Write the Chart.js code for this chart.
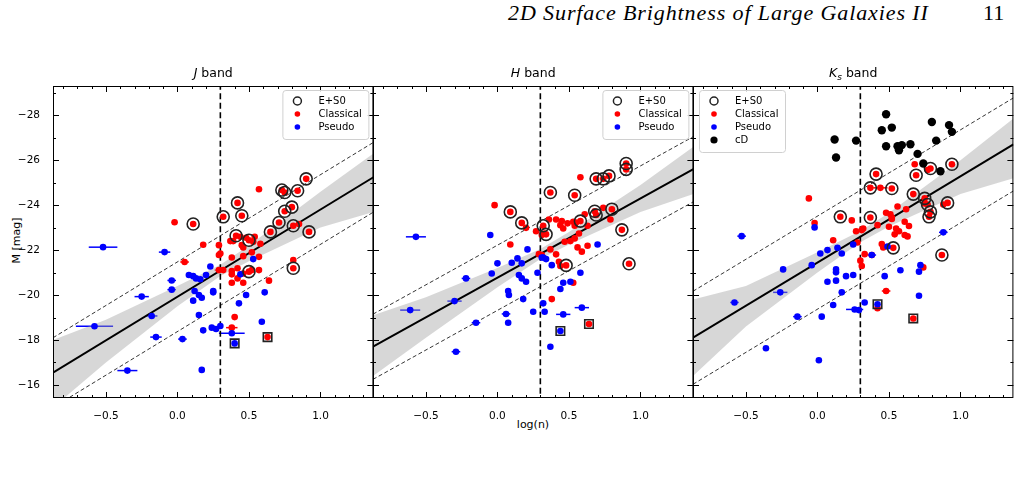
<!DOCTYPE html>
<html><head><meta charset="utf-8">
<script src="https://cdn.jsdelivr.net/npm/chart.js@4"></script>
<style>
body{margin:0;background:#fff;width:1022px;height:478px;position:relative;overflow:hidden;font-family:"DejaVu Sans",sans-serif}
canvas{position:absolute;top:60px}
.hdr{position:absolute;top:0px;font-family:"Liberation Serif",serif;font-style:italic;font-size:22px;letter-spacing:0.9px;color:#000}
</style></head><body>
<div class="hdr" style="left:508px">2D Surface Brightness of Large Galaxies II</div>
<div class="hdr" style="left:983px;font-style:normal;letter-spacing:0">11</div>
<div style="position:absolute;left:-14px;top:234px;transform:rotate(-90deg);font-size:11px;width:60px;text-align:center">M [mag]</div>
<div style="position:absolute;left:513px;top:418px;font-size:11px;width:40px;text-align:center">log(n)</div>
<canvas id="c1" width="381" height="400" style="left:0px"></canvas>
<canvas id="c2" width="381" height="400" style="left:320px"></canvas>
<canvas id="c3" width="381" height="400" style="left:640px"></canvas>
<script>
// ---- data: [logn, M, xerr] ----
const xTicks=[-0.5,0,0.5,1.0];
const yTicks=[-28,-26,-24,-22,-20,-18,-16];
const bandX=[-0.87,-0.5,0,0.3,0.5,1.0,1.37];
const fitX=[-0.87,1.37];

const jES0=[[0.11,-23.16],[0.42,-24.10],[0.32,-23.48],[0.45,-23.53],[0.90,-25.17],[0.73,-24.67],[0.75,-24.56],[0.84,-24.64],[0.80,-23.91],[0.75,-23.73],[0.71,-23.23],[0.65,-22.81],[0.81,-23.08],[0.92,-22.81],[0.41,-22.64],[0.50,-22.44],[0.50,-21.04],[0.81,-21.19]];
const jSq=[[0.63,-18.13,'red'],[0.40,-17.85,'blue']];
const jCla=[[-0.02,-23.24,0.02],[0.18,-22.24],[0.05,-21.47,0.03],[0.29,-22.22],[0.30,-21.85],[0.29,-21.78],[0.57,-24.71],[0.37,-22.40],[0.39,-22.40],[0.45,-22.22],[0.46,-22.12],[0.44,-22.59],[0.48,-22.55],[0.54,-22.59],[0.53,-22.37],[0.58,-22.28],[0.38,-21.67],[0.46,-21.73],[0.52,-21.90],[0.57,-21.70],[0.32,-21.11],[0.38,-21.07],[0.38,-20.92],[0.42,-21.19],[0.46,-20.96],[0.52,-21.11],[0.57,-21.11],[0.38,-20.55],[0.42,-20.74],[0.46,-20.55],[0.64,-20.64],[0.85,-23.16],[0.81,-21.56],[0.40,-19.02,0.02],[0.38,-18.55,0.04],[0.29,-21.11,0.03]];
const jPse=[[-0.52,-22.13,0.1],[-0.58,-18.61,0.13],[-0.35,-16.64,0.07],[-0.25,-19.93,0.05],[-0.18,-19.07,0.04],[-0.15,-18.13,0.04],[-0.09,-21.91,0.04],[-0.04,-20.65,0.03],[-0.04,-20.24,0.03],[0.035,-18.04,0.03],[0.08,-20.89],[0.11,-20.84],[0.13,-20.74],[0.16,-20.70],[0.20,-20.89],[0.23,-21.27],[0.12,-20.18],[0.11,-19.75],[0.15,-20.00],[0.17,-19.88],[0.25,-20.18],[0.25,-20.12],[0.15,-19.11],[0.18,-18.43],[0.24,-18.55],[0.27,-18.49],[0.30,-18.62],[0.17,-16.67],[0.44,-20.92],[0.53,-21.60],[0.48,-20.00],[0.61,-20.12],[0.43,-19.63],[0.59,-18.81],[0.38,-18.30,0.09]];
const jFit=[-16.55,-25.24], jUp=[-18.10,-26.79], jLo=[-15.00,-23.69];
const jBandU=[-18.0,-18.9,-20.4,-21.35,-22.2,-24.6,-26.3];
const jBandL=[-15.0,-17.0,-19.5,-20.85,-21.5,-23.0,-23.7];

const hES0=[[0.09,-23.70],[0.17,-23.21],[0.32,-23.08],[0.34,-22.70],[0.37,-24.56],[0.54,-24.44],[0.69,-25.17],[0.74,-25.17],[0.78,-25.30],[0.90,-25.85],[0.90,-25.59],[0.68,-23.73],[0.69,-23.56],[0.80,-23.82],[0.58,-23.29],[0.87,-22.90],[0.48,-21.32],[0.92,-21.39]];
const hSq=[[0.64,-18.71,'red'],[0.44,-18.40,'blue']];
const hCla=[[-0.02,-24.00],[0.09,-22.25],[0.20,-22.99],[0.27,-22.84],[0.31,-22.67],[0.33,-22.74],[0.58,-25.24],[0.36,-23.36],[0.41,-23.36],[0.44,-23.11],[0.45,-23.29],[0.46,-22.96],[0.49,-23.19],[0.53,-23.26],[0.54,-23.08],[0.55,-23.23],[0.61,-23.59],[0.63,-23.08],[0.74,-23.88],[0.79,-23.36],[0.47,-22.37],[0.51,-22.40],[0.54,-22.52],[0.57,-22.74],[0.56,-22.12],[0.59,-21.93],[0.63,-22.19],[0.29,-21.82],[0.37,-22.03],[0.41,-21.81],[0.43,-21.48],[0.44,-21.29],[0.53,-20.55],[0.38,-19.82],[0.31,-21.78]];
const hPse=[[-0.57,-22.59,0.07],[-0.61,-19.33,0.07],[-0.29,-17.48,0.03],[-0.30,-19.73,0.05],[-0.22,-20.74,0.03],[-0.15,-18.77,0.03],[-0.05,-22.67],[-0.04,-20.96],[0,-21.41],[0.06,-19.16,0.03],[0.075,-20.18],[0.08,-20.00],[0.075,-18.77],[0.10,-21.44],[0.14,-21.63],[0.17,-21.41],[0.15,-20.89],[0.17,-20.74],[0.20,-20.59],[0.18,-19.82],[0.21,-22.03],[0.25,-19.26],[0.28,-20.99],[0.31,-21.67],[0.32,-21.67],[0.34,-21.60],[0.38,-21.33],[0.32,-19.63],[0.33,-19.26],[0.37,-17.70],[0.46,-20.55],[0.44,-20.27],[0.51,-20.59],[0.58,-20.99],[0.70,-22.25],[0.59,-19.44,0.05],[0.46,-19.14,0.05]];
const hFit=[-17.70,-25.60], hUp=[-19.15,-27.05], hLo=[-16.25,-24.15];
const hBandU=[-19.1,-19.9,-21.2,-22.05,-22.8,-24.9,-26.6];
const hBandL=[-16.4,-18.1,-20.35,-21.6,-22.25,-23.7,-24.5];

const kCD=[[0.48,-28.04],[0.45,-27.33],[0.52,-27.45],[0.80,-27.70],[0.92,-27.56],[0.94,-27.26],[0.12,-26.92],[0.27,-26.87],[0.48,-26.62],[0.56,-26.62],[0.57,-26.44],[0.59,-26.67],[0.65,-26.71],[0.83,-26.87],[0.70,-26.28],[0.74,-25.85],[0.86,-25.51],[0.13,-26.12]];
const kES0=[[0.41,-25.38],[0.37,-24.77],[0.52,-24.74],[0.69,-25.33],[0.79,-25.63],[0.94,-25.82],[0.67,-24.49],[0.75,-24.30],[0.77,-24.03],[0.79,-23.70],[0.78,-23.48],[0.91,-24.10],[0.16,-23.48],[0.37,-23.45],[0.53,-22.10],[0.87,-21.78]];
const kSq=[[0.67,-18.96,'red'],[0.42,-19.59,'blue']];
const kCla=[[-0.06,-24.30],[-0.02,-23.20],[0.24,-23.32],[0.11,-22.44],[0.27,-22.84],[0.31,-22.89],[0.32,-22.96],[0.28,-22.34],[0.33,-21.82],[0.30,-21.53],[0.31,-21.29],[0.44,-24.77,0.05],[0.42,-23.11],[0.48,-23.66],[0.51,-23.59],[0.52,-23.38],[0.50,-23.04],[0.45,-22.27],[0.46,-22.12],[0.55,-22.96],[0.54,-22.70],[0.57,-22.84],[0.61,-22.67],[0.63,-22.61],[0.64,-23.07],[0.61,-23.26],[0.56,-23.94],[0.62,-23.82],[0.68,-25.82],[0.77,-25.56],[0.75,-24.07],[0.88,-24.03],[0.74,-21.23],[0.48,-20.18,0.03],[0.42,-19.41],[0.38,-21.78],[0.52,-23.45]];
const kPse=[[-0.53,-22.62,0.03],[-0.58,-19.67,0.03],[-0.26,-20.12,0.05],[-0.24,-21.14],[-0.14,-19.04,0.03],[-0.36,-17.63],[0.01,-17.10],[0.03,-19.04],[0.11,-19.56],[0.07,-20.59],[0.13,-20.64],[0.17,-20.12],[0.20,-20.84],[0.25,-20.89],[-0.04,-21.33],[0.02,-21.85],[0.07,-22.00],[0.14,-22.10],[0.17,-21.85],[0.13,-21.14],[0.13,-21.01],[0.25,-22.25],[0.33,-19.67],[0.26,-19.36,0.06],[0.29,-19.33],[0.38,-21.78,0.03],[0.49,-22.16],[0.47,-20.84],[0.58,-21.10],[0.71,-21.04],[0.72,-21.33],[0.71,-19.97],[0.88,-22.79,0.03],[-0.02,-23.01]];
const kFit=[-18.10,-26.70], kUp=[-20.17,-28.77], kLo=[-16.03,-24.63];
const kBandU=[-19.8,-20.4,-21.9,-22.85,-23.65,-26.0,-27.85];
const kBandL=[-16.4,-18.6,-21.0,-22.35,-23.05,-24.5,-25.2];

// ---- rendering ----
const P=a=>a.map(d=>({x:d[0],y:d[1],xe:d[2]||0}));
const XY=(xs,ys)=>xs.map((x,i)=>({x,y:ys[i]}));
const FONT='"DejaVu Sans", sans-serif';

const axesPlugin={id:'axesP',
 beforeDatasetsDraw(ch){
  const {ctx}=ch, xs=ch.scales.x, ys=ch.scales.y;
  ctx.save();
  ch.data.datasets.forEach(ds=>{ if(!ds.errbar) return;
    ctx.strokeStyle=ds.errbar; ctx.lineWidth=1.5;
    ds.data.forEach(p=>{ if(!p.xe) return;
      const y=ys.getPixelForValue(p.y);
      ctx.beginPath(); ctx.moveTo(xs.getPixelForValue(p.x-p.xe),y); ctx.lineTo(xs.getPixelForValue(p.x+p.xe),y); ctx.stroke();});
  });
  ctx.restore();
 },
 afterDraw(ch,args,o){
  const {ctx,chartArea:a}=ch, xs=ch.scales.x, ys=ch.scales.y;
  ctx.save();
  ctx.strokeStyle='#000'; ctx.lineWidth=1;
  ctx.strokeRect(a.left+0.5,a.top+0.5,a.right-a.left-1,a.bottom-a.top-1);
  ctx.beginPath();
  for(let v=-29;v<=-16;v++){const y=Math.round(ys.getPixelForValue(v))+0.5;const L=(v%2===0)?6:3;
    ctx.moveTo(a.left,y);ctx.lineTo(a.left+L,y);ctx.moveTo(a.right,y);ctx.lineTo(a.right-L,y);}
  for(let i=-8;i<=13;i++){const v=i/10;const x=Math.round(xs.getPixelForValue(v))+0.5;const L=(i%5===0)?6:3;
    ctx.moveTo(x,a.bottom);ctx.lineTo(x,a.bottom-L);ctx.moveTo(x,a.top);ctx.lineTo(x,a.top+L);}
  ctx.stroke();
  ctx.fillStyle='#000'; ctx.textBaseline='alphabetic';
  const cx=(a.left+a.right)/2, ty=a.top-9;
  const parts=o.title;
  let w=0; parts.forEach(p=>{ctx.font=p[1];w+=ctx.measureText(p[0]).width;});
  let x=cx-w/2;
  parts.forEach(p=>{ctx.font=p[1];ctx.fillText(p[0],x,ty+(p[2]||0));x+=ctx.measureText(p[0]).width;});
  const ents=o.legend, bw=86, bh=10+ents.length*13;
  const bx=o.legendLeft? a.left+6 : a.right-bw-5, by=a.top+4;
  ctx.fillStyle='rgba(255,255,255,0.85)'; ctx.strokeStyle='#d0d0d0'; ctx.lineWidth=1;
  ctx.beginPath(); ctx.roundRect(bx+0.5,by+0.5,bw,bh,3); ctx.fill(); ctx.stroke();
  ents.forEach((e,i)=>{const yy=by+11+i*13, mx=bx+15;
    ctx.beginPath(); ctx.arc(mx,yy,e[2],0,Math.PI*2);
    if(e[1]==='ring'){ctx.strokeStyle='#222';ctx.lineWidth=1.5;ctx.stroke();}
    else{ctx.fillStyle=e[1];ctx.fill();}
    ctx.fillStyle='#000'; ctx.font='10px '+FONT; ctx.textBaseline='middle'; ctx.fillText(e[0],bx+36,yy+0.5);});
  ctx.restore();
 }};

function panel(id,first,d){
  const datasets=[
   {type:'line',data:XY(bandX,d.bu),borderWidth:0,pointRadius:0,fill:false,order:20,backgroundColor:'rgba(0,0,0,0)'},
   {type:'line',data:XY(bandX,d.bl),borderWidth:0,pointRadius:0,fill:'-1',backgroundColor:'rgba(160,160,160,0.42)',order:19},
   {type:'line',data:XY(fitX,d.fit),borderColor:'#000',borderWidth:2,pointRadius:0,order:10},
   {type:'line',data:XY(fitX,d.up),borderColor:'#000',borderWidth:0.8,borderDash:[4,2.5],pointRadius:0,order:11},
   {type:'line',data:XY(fitX,d.lo),borderColor:'#000',borderWidth:0.8,borderDash:[4,2.5],pointRadius:0,order:11},
   {type:'line',data:[{x:0.3,y:-29.4},{x:0.3,y:-15.3}],borderColor:'#000',borderWidth:1.6,borderDash:[6,3.5],pointRadius:0,order:9},
   {type:'scatter',data:P(d.es0),pointRadius:6,pointBackgroundColor:'rgba(0,0,0,0)',pointBorderColor:'#222',pointBorderWidth:1.6,order:3},
   {type:'scatter',data:P(d.sq),pointStyle:'rect',pointRadius:6,pointBackgroundColor:'rgba(0,0,0,0)',pointBorderColor:'#222',pointBorderWidth:1.6,order:3},
   {type:'scatter',data:P(d.cla).concat(P(d.es0)),pointRadius:3.3,pointBackgroundColor:'#ff0000',pointBorderWidth:0,errbar:'#ff0000',order:5},
   {type:'scatter',data:P(d.pse),pointRadius:3.3,pointBackgroundColor:'#0000ff',pointBorderWidth:0,errbar:'#0000ff',order:4},
   {type:'scatter',data:P(d.sq),pointRadius:3.3,pointBackgroundColor:d.sq.map(s=>s[2]),pointBorderWidth:0,order:2}
  ];
  if(d.cd) datasets.push({type:'scatter',data:P(d.cd),pointRadius:4.2,pointBackgroundColor:'#000',pointBorderWidth:0,order:1});
  new Chart(document.getElementById(id),{
   data:{datasets},
   options:{responsive:false,animation:false,devicePixelRatio:1,
    layout:{padding:{top:26,right:3,left:0,bottom:0}},
    plugins:{legend:{display:false},tooltip:{enabled:false},axesP:{title:d.title,legend:d.legend,legendLeft:!!d.cd}},
    scales:{
     x:{type:'linear',min:-0.87,max:1.37,grid:{display:false},border:{display:false},
        afterBuildTicks:s=>{s.ticks=xTicks.map(v=>({value:v}));},
        afterFit:s=>{s.height=62;s.paddingLeft=0;s.paddingRight=0;},
        ticks:{padding:4,color:'#000',font:{size:10.5,family:FONT},callback:v=>(v<0?'\u2212':'')+Math.abs(v).toFixed(1)}},
     y:{type:'linear',reverse:true,min:-29.3,max:-15.42,grid:{display:false},border:{display:false},
        afterBuildTicks:s=>{s.ticks=yTicks.map(v=>({value:v}));},
        afterFit:s=>{s.width=53;s.paddingTop=0;s.paddingBottom=0;},
        ticks:{display:first,padding:5,color:'#000',font:{size:10.5,family:FONT},callback:v=>'\u2212'+Math.abs(v)}}
    }},
   plugins:[axesPlugin]});
}
const L3=[['E+S0','ring',4],['Classical','#ff0000',2.8],['Pseudo','#0000ff',2.8]];
panel('c1',true,{es0:jES0,sq:jSq,cla:jCla,pse:jPse,fit:jFit,up:jUp,lo:jLo,bu:jBandU,bl:jBandL,
  title:[['J','italic 12.5px '+FONT],[' band','12.5px '+FONT]],legend:L3});
panel('c2',false,{es0:hES0,sq:hSq,cla:hCla,pse:hPse,fit:hFit,up:hUp,lo:hLo,bu:hBandU,bl:hBandL,
  title:[['H','italic 12.5px '+FONT],[' band','12.5px '+FONT]],legend:L3});
panel('c3',false,{es0:kES0,sq:kSq,cla:kCla,pse:kPse,cd:kCD,fit:kFit,up:kUp,lo:kLo,bu:kBandU,bl:kBandL,
  title:[['K','italic 12.5px '+FONT],['s','italic 9px '+FONT,3],[' band','12.5px '+FONT]],
  legend:L3.concat([['cD','#000',3.6]])});
</script></body></html>
